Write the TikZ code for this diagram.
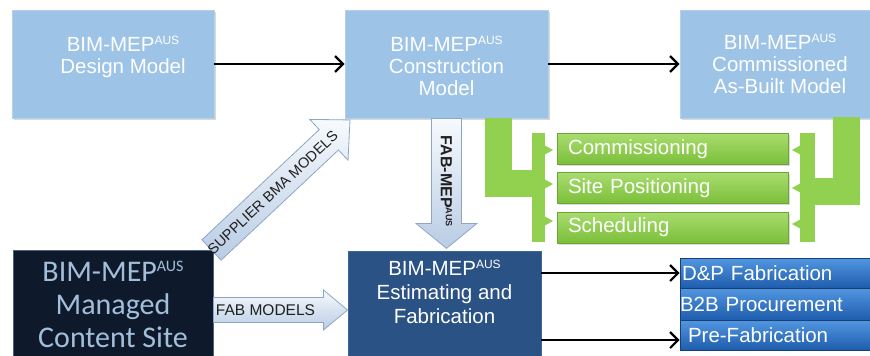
\documentclass[tikz,border=0pt]{standalone}
\usepackage{fontspec}
\setmainfont{Liberation Sans}
\newfontfamily\calfont{Carlito}
\usetikzlibrary{arrows.meta,shadows,calc}
\definecolor{lbfill}{HTML}{9DC3E6}
\definecolor{lbedge}{HTML}{B3D1EC}
\definecolor{navy}{HTML}{0E1A2B}
\definecolor{navyedge}{HTML}{4A6480}
\definecolor{navytext}{HTML}{A3BED9}
\definecolor{estblue}{HTML}{2A5285}
\definecolor{estedge}{HTML}{3C659A}
\definecolor{rbtop}{HTML}{5296E0}
\definecolor{rbbot}{HTML}{1E5DAD}
\definecolor{rbedge}{HTML}{173F73}
\definecolor{gtop}{HTML}{A8DC6E}
\definecolor{gbot}{HTML}{7BBF3A}
\definecolor{gedge}{HTML}{6FA536}
\definecolor{brkgreen}{HTML}{92D050}
\definecolor{arrtop}{HTML}{F7FAFD}
\definecolor{arrbot}{HTML}{B9CCE4}
\definecolor{arredge}{HTML}{8DA6C6}
\definecolor{arrtext}{HTML}{1F1F1F}
\newcommand\AUS[2]{\raisebox{#2}{\fontsize{#1}{#1}\selectfont AUS}}
\newcommand\blockarrow[9]{%
  \begin{scope}[shift={(#1)},rotate=#2]
    \path[barrow] (0,{-#4/2}) -- ({#3-#6},{-#4/2}) -- ({#3-#6},{-#5/2}) -- (#3,0)
      -- ({#3-#6},{#5/2}) -- ({#3-#6},{#4/2}) -- (0,{#4/2}) -- cycle;
    \node[atext] (#8) at (#7,0) {#9};
  \end{scope}}
\begin{document}
\begin{tikzpicture}[x=1pt,y=-1pt,
  lbox/.style={rectangle, inner sep=0pt, fill=lbfill, draw=lbedge, line width=0.8pt,
    drop shadow={shadow xshift=1.5pt,shadow yshift=-2pt,opacity=0.3}},
  btext/.style={anchor=north, align=center, inner sep=0pt, text=white,
    font=\fontsize{20.5}{22}\selectfont},
  mbox/.style={rectangle, inner sep=0pt, fill=navy, draw=navyedge, line width=1pt},
  ebox/.style={rectangle, inner sep=0pt, fill=estblue, draw=estedge, line width=0.8pt},
  gbox/.style={rectangle, inner xsep=11pt, inner ysep=0pt, text width=209pt, minimum height=31pt,
    align=left, top color=gtop, bottom color=gbot, draw=gedge, line width=0.6pt, text=white,
    font=\fontsize{20.5}{22}\selectfont,
    drop shadow={shadow xshift=1.5pt,shadow yshift=-1.5pt,opacity=0.3}},
  rbox/.style={rectangle, inner xsep=2pt, inner ysep=0pt, text width=206pt,
    align=left, top color=rbtop, bottom color=rbbot, draw=rbedge, line width=0.8pt, text=white,
    font=\fontsize{20.5}{22}\selectfont},
  conn/.style={line width=2.2pt, black, -{Straight Barb[length=8pt,width=16pt]}},
  barrow/.style={top color=arrtop, bottom color=arrbot, draw=arredge, line width=0.8pt},
  atext/.style={transform shape, inner sep=0pt, text=arrtext, font=\fontsize{14.5}{16}\selectfont},
  brk/.style={fill=brkgreen}]
\useasboundingbox (0,0) rectangle (870,356);
\clip (0,0) rectangle (870,356);

% top row
\node[lbox, minimum width=202pt, minimum height=108pt] (dm) at (113,64) {};
\node[lbox, minimum width=203pt, minimum height=108pt] (cm) at (446.5,64) {};
\node[lbox, minimum width=202pt, minimum height=108pt] (cb) at (781,64) {};
\node[btext] (dmT) at (123,36) {BIM-MEP\AUS{12}{7pt}\\Design Model};
\node[btext] (cmT) at (446.5,36) {BIM-MEP\AUS{12}{7pt}\\Construction\\Model};
\node[btext] (cbT) at (780,34) {BIM-MEP\AUS{12}{7pt}\\Commissioned\\As-Built Model};

% bottom row
\node[mbox, minimum width=200pt, minimum height=120pt] (mc) at (113,310) {};
\node[anchor=north, align=center, inner sep=0pt, text=navytext,
  font=\calfont\fontsize{30}{33}\selectfont] (mcT) at (113,261)
  {BIM-MEP\AUS{16}{10pt}\\Managed\\Content Site};
\node[ebox, minimum width=193pt, minimum height=119pt] (est) at (444.5,310.5) {};
\node[btext, font=\fontsize{20.5}{24}\selectfont] (estT) at (444.5,260)
  {BIM-MEP\AUS{12}{7pt}\\Estimating and\\Fabrication};

% green brackets
\fill[brk] (485,118) rectangle (512,197);
\fill[brk] (511,170) rectangle (533,197);
\fill[brk] (532,133) rectangle (545,242);
\foreach \yy in {150,184,221} \fill[brk] (544,\yy-5) -- (553,\yy) -- (544,\yy+5) -- cycle;
\fill[brk] (833,117) rectangle (860,205);
\fill[brk] (814,178) rectangle (834,205);
\fill[brk] (800,133) rectangle (815,242);
\foreach \yy in {150,188,224} \fill[brk] (801,\yy-5) -- (792,\yy) -- (801,\yy+5) -- cycle;

% green boxes
\node[gbox] (g1) at (672.5,149) {Commissioning};
\node[gbox] (g2) at (672.5,188) {Site Positioning};
\node[gbox] (g3) at (672.5,227.5) {Scheduling};

% right blue boxes
\node[rbox, minimum height=30pt] (r1) at (785,273) {D\&P Fabrication};
\node[rbox, minimum height=32pt] (r2) at (785,304) {\hspace*{-2pt}B2B Procurement};
\node[rbox, minimum height=30pt] (r3) at (785,335) {\hspace*{6pt}Pre-Fabrication};

% connectors
\draw[conn] (dm) -- (cm);
\draw[conn] (cm) -- (cb);
\draw[conn] (est.east |- r1.west) -- (r1.west);
\coordinate (pfin) at ($(r3.west)+(0,5)$);
\draw[conn] (est.east |- pfin) -- (pfin);

% block arrows
\blockarrow{cm.south}{-90}{130}{30}{61}{25}{63}{fabT}{\fontsize{16}{18}\selectfont\bfseries FAB-MEP\AUS{9}{5pt}}
\blockarrow{mc.east}{0}{134}{25}{40}{24}{52}{fabmT}{\fontsize{15.5}{17}\selectfont FAB MODELS}
\blockarrow{$(mc.north east)+(-2,0.5)$}{43.2}{190}{28}{56}{29}{84}{supT}{SUPPLIER BMA MODELS}
\end{tikzpicture}
\end{document}
